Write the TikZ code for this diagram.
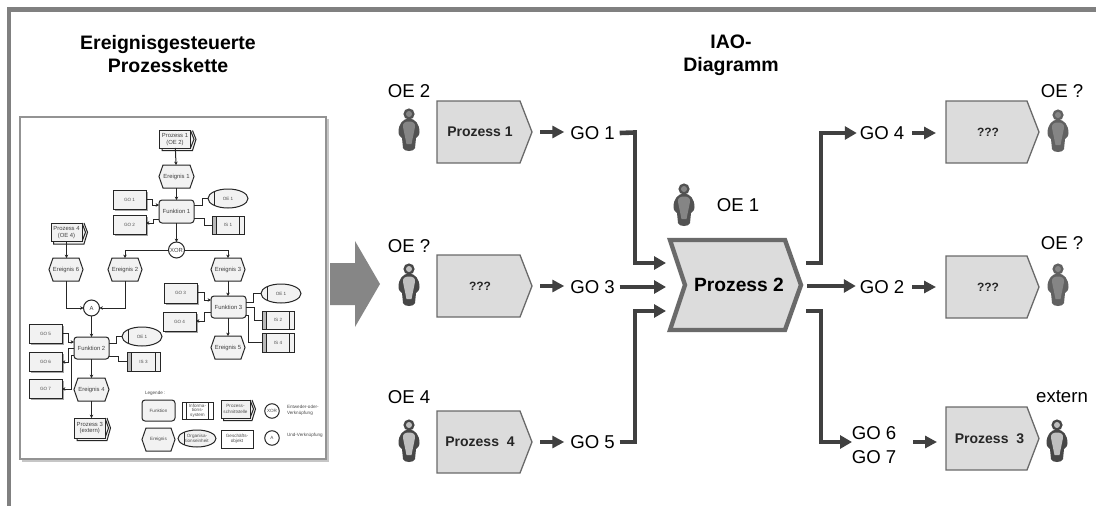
\documentclass[tikz,border=0pt]{standalone}
\usepackage{fontspec}
\setmainfont{Liberation Sans}
\usetikzlibrary{arrows.meta,fit,shapes.geometric}
\definecolor{dk}{HTML}{404040}
\definecolor{fr}{HTML}{808080}
\definecolor{pf}{HTML}{DCDCDC}
\definecolor{pe}{HTML}{6A6A6A}
\definecolor{ef}{HTML}{F2F2F2}
\definecolor{el}{HTML}{262626}
\newcommand{\fs}[1]{\fontsize{#1pt}{#1pt}\selectfont}
\tikzset{
  x=1pt,y=-1pt,
  every node/.style={inner sep=0pt,outer sep=0pt},
  bigtitle/.style={font=\fs{19.5}\bfseries,align=center,text=black},
  lbl/.style={font=\fs{18.6},text=black},
  lblm/.style={font=\fs{18.6},text=black,align=center},
  ptext/.style={font=\fs{14}\bfseries,text=black!85},
  bigline/.style={line width=4.6pt,color=dk,line cap=butt,line join=miter},
  bigarrow/.style={bigline,-{Triangle[length=12pt,width=13pt]},shorten >=0pt},
  smallarrow/.style={line width=3.6pt,color=dk,-{Triangle[length=12pt,width=12pt]}},
  epc/.style={line width=1pt,color=el},
  epca/.style={epc,-{Stealth[length=3.4pt,width=3.6pt]}},
  elab/.style={font=\fs{5.9},text=black!75,align=center},
  smlab/.style={font=\fs{4.6},text=black!70,align=center},
  fnbox/.style={draw=el,fill=ef,line width=1pt,rounded corners=3pt},
  gobox/.style={draw=el,fill=ef,line width=1pt},
  isbox/.style={draw=el,fill=ef,line width=1pt},
  oebox/.style={ellipse,draw=el,fill=ef,line width=1pt},
  gate/.style={circle,draw=el,fill=white,line width=1pt,minimum size=16pt},
  wbox/.style={draw=el,fill=white,line width=1pt}
}
\newcommand{\proc}[8]{%
  \node[fit={(#2,#3)(#4,#5)}] (#1) {};
  \draw[fill=pf,draw=pe,line width=1.3pt,line join=miter] (#1.north west) -- ([xshift=-12pt]#1.north east) -- (#1.east) -- ([xshift=-12pt]#1.south east) -- (#1.south west) -- cycle;
  \node[ptext,#8,xshift=#7pt] (#1t) at (#1.center) {#6};}
\newcommand{\person}[4]{%
  \begin{scope}[shift={(#1,#2)}]
    \fill[#3] (0,-16) circle[radius=5.6];
    \fill[#3] (0,-11.5) .. controls (6,-11.5) and (10.5,-6) .. (10.5,2) .. controls (10.5,6) and (8,7) .. (7,8) -- (6,18) .. controls (5,22) and (-5,22) .. (-6,18) -- (-7,8) .. controls (-8,7) and (-10.5,6) .. (-10.5,2) .. controls (-10.5,-6) and (-6,-11.5) .. (0,-11.5) -- cycle;
    \fill[#4] (0,-16) circle[radius=3];
    \fill[#4] (0,-8.5) .. controls (4,-8.5) and (6.5,-7) .. (6,-3) -- (2.5,14) -- (-2.5,14) -- (-6,-3) .. controls (-6.5,-7) and (-4,-8.5) .. (0,-8.5) -- cycle;
  \end{scope}}
\newcommand{\fnn}[7][elab]{\node[fnbox,fit={(#3,#4)(#5,#6)}] (#2) {};\node[#1] at (#2.center) {#7};}
\newcommand{\gon}[6]{\fill[gray!70] (#2+1.5,#3+1.5) rectangle (#4+1.5,#5+1.5);\node[gobox,fit={(#2,#3)(#4,#5)}] (#1) {};\node[smlab] at (#1.center) {#6};}
\newcommand{\hexn}[7][elab]{%
  \node[fit={(#3,#4)(#5,#6)}] (#2) {};
  \draw[fill=ef,draw=el,line width=1pt] (#2.west) -- ([xshift=4pt]#2.north west) -- ([xshift=-4pt]#2.north east) -- (#2.east) -- ([xshift=-4pt]#2.south east) -- ([xshift=4pt]#2.south west) -- cycle;
  \node[#1] at (#2.center) {#7};}
\newcommand{\isn}[6]{%
  \node[isbox,fit={(#2,#3)(#4,#5)}] (#1) {};
  \fill[gray!55] (#1.north west) rectangle ([xshift=4pt]#1.south west);
  \draw[el,line width=1pt] (#1.north west) rectangle (#1.south east);
  \draw[el,line width=1pt] ([xshift=4.5pt]#1.north west) -- ([xshift=4.5pt]#1.south west);
  \draw[el,line width=1pt] ([xshift=-4.5pt]#1.north east) -- ([xshift=-4.5pt]#1.south east);
  \node[smlab] at (#1.center) {#6};}
\newcommand{\oen}[6]{%
  \node[oebox,minimum width={(#4-#2)*1pt},minimum height={(#5-#3)*1pt}] (#1) at ({(#2+#4)/2},{(#3+#5)/2}) {};
  \draw[el,line width=1pt] ([xshift=6pt,yshift=6.6pt]#1.west) -- ([xshift=6pt,yshift=-6.6pt]#1.west);
  \node[smlab] at (#1.center) {#6};}
\newcommand{\ifn}[7][elab]{%
  \node[fit={(#3,#4)(#5,#6)}] (#2) {};
  \draw[el,line width=1pt,fill=ef] ([xshift=2pt]#2.north east) -- ([xshift=5.5pt]#2.east) -- ([xshift=2pt,yshift=-2.5pt]#2.south east) -- ([xshift=2.5pt,yshift=-2.5pt]#2.south west) -- ([xshift=2.5pt]#2.south west);
  \draw[el,line width=1pt] (#2.north east) -- ([xshift=3.5pt]#2.east) -- (#2.south east);
  \node[gobox,fit={(#3,#4)(#5,#6)}] (#2) {};
  \node[#1] at (#2.center) {#7};}
\begin{document}
\begin{tikzpicture}
\useasboundingbox (0,0) rectangle (1096,506);
\fill[white] (0,0) rectangle (1096,506);
\draw[fr,line width=4.6pt,line join=miter] (9,506) -- (9,9.5) -- (1096,9.5);
\node[bigtitle] (t1) at (168,54) {Ereignisgesteuerte\\[3.5pt]Prozesskette};
\node[bigtitle] (t2) at (731,55) {IAO-\\[3.5pt]Diagramm};
\draw[gray!45,line width=1.5pt] (328,119) -- (328,461) -- (22,461);
\draw[fill=white,draw=gray!85,line width=1.6pt] (20,117) rectangle (326,459);
\fill[fr!95] (330,263) -- (355,263) -- (355,241) -- (380,284) -- (355,327) -- (355,305) -- (330,305) -- cycle;
% ---- EPC nodes
\ifn{p1}{159.5}{130.5}{190.5}{148}{Prozess 1\\[1pt](OE 2)}
\hexn{e1}{159}{165}{194}{188}{Ereignis 1}
\fnn{f1}{159}{200}{194}{223}{Funktion 1}
\gon{g1}{113}{190}{146}{209}{GO 1}
\gon{g2}{113}{215}{146}{234}{GO 2}
\oen{o1}{208}{189}{248}{208}{OE 1}
\isn{i1}{212}{216}{244}{234}{IS 1}
\node[gate,elab] (xor) at (176.5,250) {XOR};
\ifn{p4}{51}{223}{82}{241.5}{Prozess 4\\[1pt](OE 4)}
\hexn{e6}{49}{258}{83}{281}{Ereignis 6}
\hexn{e2}{108}{258}{142}{281}{Ereignis 2}
\hexn{e3}{211}{258}{245}{281}{Ereignis 3}
\gon{g3}{164}{283}{197}{303}{GO 3}
\gon{g4}{163}{312}{196}{331}{GO 4}
\fnn{f3}{211}{296}{246}{318}{Funktion 3}
\oen{o3}{261}{284}{301}{303}{OE 1}
\isn{i2}{262}{311}{294}{329}{IS 2}
\isn{i4}{262}{333}{294}{352}{IS 4}
\hexn{e5}{211}{336}{245}{359}{Ereignis 5}
\node[gate,elab] (and) at (91.5,308) {A};
\gon{g5}{29}{324}{62}{343}{GO 5}
\gon{g6}{29}{352}{62}{371}{GO 6}
\gon{g7}{29}{379}{62}{398}{GO 7}
\fnn{f2}{74}{337}{109}{359}{Funktion 2}
\oen{o2}{122}{327}{162}{346}{OE 1}
\isn{i3}{127}{352}{160}{371}{IS 3}
\hexn{e4}{74}{378}{109}{401}{Ereignis 4}
\ifn{p3}{74.5}{418}{105}{438}{Prozess 3\\[1pt](extern)}
% ---- EPC connectors
\draw[epca] (p1) -- (e1);
\draw[epca] (e1) -- (f1);
\draw[epca] (f1) -- (xor);
\draw[epca] (xor) -| (e2);
\draw[epca] (xor) -| (e3);
\draw[epca] (p4.south) -- (e6.north -| p4.south);
\draw[epca] (e6.south) |- (and);
\draw[epca] (e2.south) |- (and);
\draw[epca] (and) -- (f2.north -| and);
\draw[epca] (f2.south -| e4.north) -- (e4.north);
\draw[epca] (e4.south) -- (e4.south |- p3.north);
\draw[epca] (e3.south) -- (e3.south |- f3.north);
\draw[epca] (f3.south -| e5.north) -- (e5.north);
\draw[epca] (g1.east) -- (152,199.5) |- (f1.west |- 0,205);
\draw[epca] (f1.west |- 0,219) -- (153,219) |- (g2.east |- 0,223);
\draw[epc] (f1.east |- 0,205) -- (202,205) |- (o1.west);
\draw[epc] (f1.east |- 0,218) -- (204,218) |- (i1.west);
\draw[epca] (g3.east |- 0,292) -- (204,292) |- (f3.west |- 0,300);
\draw[epca] (f3.west |- 0,312) -- (204,312) |- (g4.east |- 0,321);
\draw[epc] (f3.east |- 0,302) -- (253,302) |- (o3.west);
\draw[epc] (f3.east |- 0,307) -- (254,307) |- (i2.west);
\draw[epc] (f3.east |- 0,315) -- (248,315) |- (i4.west);
\draw[epca] (g5.east |- 0,333) -- (68,333) |- (f2.west |- 0,342);
\draw[epca] (f2.west |- 0,348) -- (68,348) |- (g6.east |- 0,362);
\draw[epca] (f2.west |- 0,355) -- (71,355) |- (g7.east |- 0,389);
\draw[epc] (f2.east |- 0,343) -- (116,343) |- (o2.west);
\draw[epc] (f2.east |- 0,356) -- (118,356) |- (i3.west);
% ---- Legend
\node[smlab,anchor=west] (leg) at (145,393) {Legende :};
\fnn[smlab]{lf}{142}{400}{175}{421}{Funktion}
\node[wbox,fit={(182,402)(213,419)}] (li) {};
\node[smlab] at (li.center) {Informa-\\tions-\\system};
\draw[el,line width=1pt] ([xshift=4.5pt]li.north west) -- ([xshift=4.5pt]li.south west);
\draw[el,line width=1pt] ([xshift=-4.5pt]li.north east) -- ([xshift=-4.5pt]li.south east);
\ifn[smlab]{lp}{221}{400}{250}{418}{Prozess-\\[1pt]schnittstelle}
\node[gate,smlab,minimum size=14.5pt] (lx) at (272,411) {XOR};
\node[smlab,anchor=west,align=left] (lxt) at (287,410) {Entweder-oder-\\[1.5pt]Verknüpfung};
\hexn[smlab]{le}{142}{428}{175}{451}{Ereignis}
\oen{lo}{178}{430}{216}{447}{Organisa-\\[.5pt]tionseinheit}
\node[wbox,fit={(221,430)(253,448)}] (lg) {};
\node[smlab] at (lg.center) {Geschäfts-\\[.5pt]objekt};
\node[gate,smlab,minimum size=14.5pt] (la) at (272,438) {A};
\node[smlab,anchor=west] (lat) at (287,435) {Und-Verknüpfung};
% ---- IAO processes
\proc{a1}{437}{101}{532}{163}{Prozess 1}{-4.5}{}
\proc{a3}{437}{255}{532}{317}{???}{-4.5}{font=\fs{12}\bfseries}
\proc{a4}{437}{411}{532}{473}{Prozess\ \ 4}{-4.5}{}
\proc{b4}{946}{101}{1039}{163}{???}{-4.5}{font=\fs{12}\bfseries}
\proc{b2}{946}{256}{1039}{318}{???}{-4.5}{font=\fs{12}\bfseries}
\proc{b3}{946}{407}{1039}{470}{Prozess\ \ 3}{-3}{}
\coordinate (c2nw) at (670,240);
\coordinate (c2ne) at (785,240);
\coordinate (c2tip) at (801,285);
\coordinate (c2se) at (785,330);
\coordinate (c2sw) at (670,330);
\coordinate (c2no) at (685,285);
\draw[fill=pf,draw=pe,line width=4.4pt,line join=miter,miter limit=10] (c2nw) -- (c2ne) -- (c2tip) -- (c2se) -- (c2sw) -- (c2no) -- cycle;
\node[font=\fs{19.2}\bfseries,text=black] (a2) at (739,285) {Prozess 2};
% persons
\person{409}{130}{black!68}{black!48}
\person{409}{285}{black!72}{black!25}
\person{409}{441}{black!72}{black!25}
\person{684}{205}{black!68}{black!48}
\person{1058}{131}{black!62}{black!48}
\person{1058}{285}{black!62}{black!48}
\person{1057}{441}{black!72}{black!25}
% labels
\node[lbl] (oe2) at (409,91) {OE 2};
\node[lbl] (oeq1) at (409,246) {OE ?};
\node[lbl] (oe4) at (409,397) {OE 4};
\node[lbl] (oe1) at (738,205) {OE 1};
\node[lbl] (oeq2) at (1062,91) {OE ?};
\node[lbl] (oeq3) at (1062,243) {OE ?};
\node[lbl] (ext) at (1062,397) {extern};
\node[lbl] (go1) at (592.5,133) {GO 1};
\node[lbl] (go3) at (592.5,287) {GO 3};
\node[lbl] (go5) at (592.5,442) {GO 5};
\node[lbl] (go4) at (882,133) {GO 4};
\node[lbl] (go2) at (882,287) {GO 2};
\node[lblm] (go67) at (874,445) {GO 6\\[5.5pt]GO 7};
% small arrows
\coordinate (r1) at (912,133);
\coordinate (r2) at (912,287);
\coordinate (r3) at (913,442);
\draw[smallarrow] ([xshift=8pt]a1.east) -- ([xshift=-6pt]go1.west |- a1.east);
\draw[smallarrow] ([xshift=8pt]a3.east) -- ([xshift=-6pt]go3.west |- a3.east);
\draw[smallarrow] ([xshift=8pt]a4.east) -- ([xshift=-6pt]go5.west |- a4.east);
\draw[smallarrow] (r1) -- ([xshift=-10pt]b4.west |- r1);
\draw[smallarrow] (r2) -- ([xshift=-10pt]b2.west |- r2);
\draw[smallarrow] (r3) -- ([xshift=-9pt]b3.west |- r3);
% big connectors
\coordinate (in1) at (666,263);
\coordinate (in2) at (666,287);
\coordinate (in3) at (666,311);
\coordinate (out1) at (806,263);
\coordinate (out2) at (807,286);
\coordinate (out3) at (806,311);
\draw[bigline] ([xshift=5pt]go1.east) -- (635,132.5);
\draw[bigarrow] (632.7,132.5) -- (635,132.5) -- (635,263) -- (in1);
\draw[bigarrow] ([xshift=5pt]go3.east |- in2) -- (in2);
\draw[bigline] ([xshift=5pt]go5.east |- 0,442) -- (635,442);
\draw[bigarrow] (632.7,442) -- (635,442) -- (635,311) -- (in3);
\draw[bigarrow] (out1) -- (821,263) -- (821,133) -- ([xshift=-3pt]go4.west |- 0,133);
\draw[bigarrow] (out2) -- ([xshift=-4pt]go2.west |- out2);
\draw[bigarrow] (out3) -- (821,311) -- (821,442) -- (852,442);
\end{tikzpicture}
\end{document}
